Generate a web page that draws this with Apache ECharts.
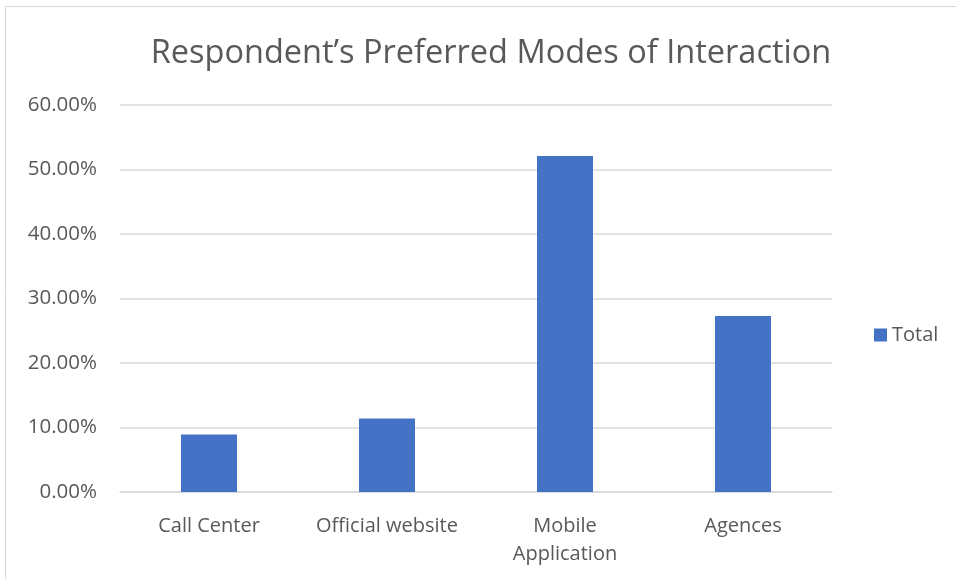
<!DOCTYPE html>
<html>
<head>
<meta charset="utf-8">
<script src="https://cdn.jsdelivr.net/npm/echarts@6/dist/echarts.min.js"></script>
<style>
  html, body { margin: 0; padding: 0; background: #fff; }
  #chart { width: 956px; height: 579px; }
</style>
</head>
<body>
<div id="chart"></div>
<script>
var categories = ["Call Center", "Official website", "Mobile\nApplication", "Agences"];
var totals = [0.089, 0.114, 0.521, 0.273];
var yTicks = [0, 0.1, 0.2, 0.3, 0.4, 0.5, 0.6];

var chart = echarts.init(document.getElementById("chart"));
var textColor = "#595959";
var fontFamily = "Open Sans, Liberation Sans, sans-serif";

chart.setOption({
  animation: false,
  textStyle: { fontFamily: fontFamily },
  graphic: [
    {
      // chart frame like the office export
      type: "rect",
      shape: { x: 5.5, y: 6.5, width: 960, height: 600 },
      style: { fill: null, stroke: "#d9d9d9", lineWidth: 1 }
    }
  ],
  title: {
    text: "Respondent\u2019s Preferred Modes of Interaction",
    left: 486,
    textAlign: "center",
    top: 32,
    textStyle: { color: textColor, fontSize: 32.5, fontWeight: "normal", fontFamily: fontFamily }
  },
  legend: {
    orient: "vertical",
    left: 869,
    top: 320,
    itemWidth: 13,
    itemHeight: 13,
    itemGap: 6,
    icon: "rect",
    textStyle: { color: textColor, fontSize: 20 },
    data: ["Total"]
  },
  grid: {
    left: 120,
    right: 124,
    top: 105,
    bottom: 87,
    containLabel: false
  },
  xAxis: {
    type: "category",
    data: categories,
    axisTick: { show: false },
    axisLine: { lineStyle: { color: "#d9d9d9", width: 1.5 } },
    axisLabel: { color: textColor, fontSize: 20, margin: 20, lineHeight: 28, interval: 0 }
  },
  yAxis: {
    type: "value",
    min: yTicks[0],
    max: yTicks[yTicks.length - 1],
    interval: 0.1,
    axisLine: { show: false },
    axisTick: { show: false },
    splitLine: { lineStyle: { color: "#d9d9d9", width: 1.5 } },
    axisLabel: {
      color: textColor,
      fontSize: 20.5,
      margin: 23,
      formatter: function (v) { return (v * 100).toFixed(2) + "%"; }
    }
  },
  series: [
    {
      name: "Total",
      type: "bar",
      data: totals,
      barWidth: 56,
      itemStyle: { color: "#4472c4" }
    }
  ]
});
</script>
</body>
</html>
